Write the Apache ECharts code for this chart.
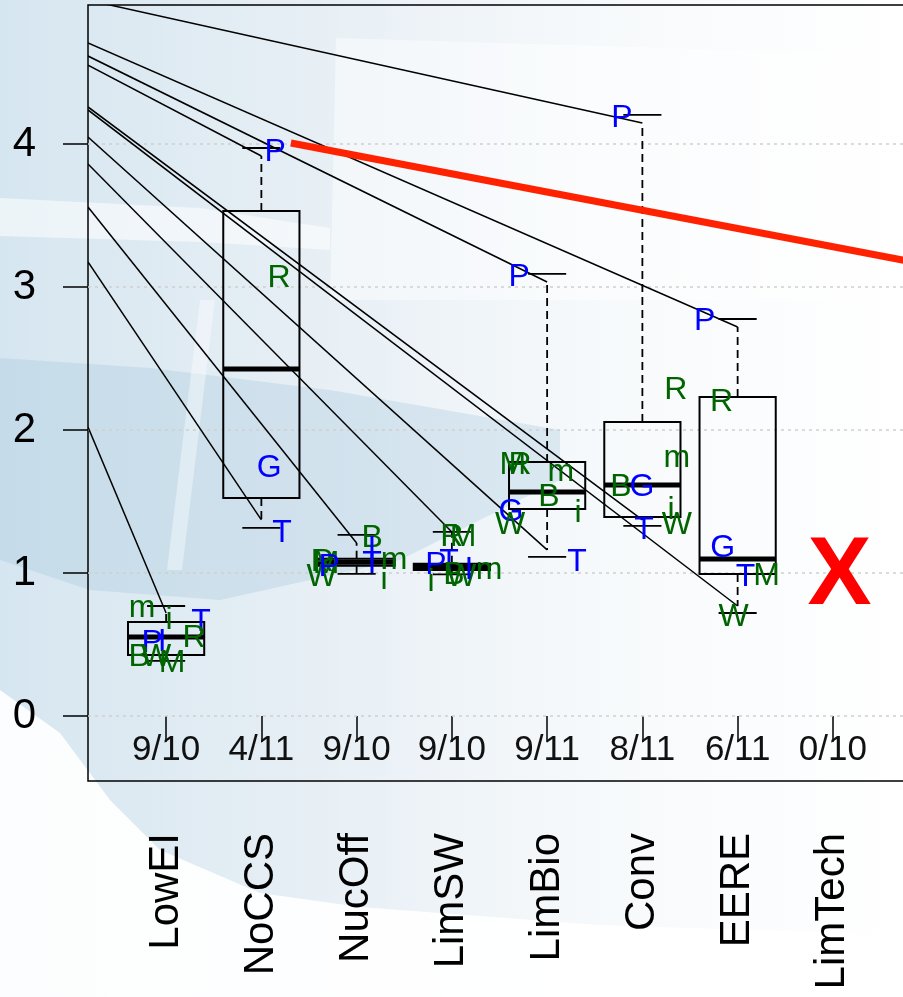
<!DOCTYPE html>
<html><head><meta charset="utf-8">
<script src="https://cdn.jsdelivr.net/npm/echarts@6/dist/echarts.min.js"></script>
<style>html,body{margin:0;padding:0;background:#fff}#c{width:903px;height:997px}</style>
</head><body><div id="c"></div>
<script>
// ---- data ----
const categories = ['LowEI','NoCCS','NucOff','LimSW','LimBio','Conv','EERE','LimTech'];
const counts = ['9/10','4/11','9/10','9/10','9/11','8/11','6/11','0/10'];
const yTicks = [0,1,2,3,4];
const countLevel = -0.238;

// box statistics for the first seven scenarios
const boxQ1        = [0.427,1.524,1.050,1.020,1.448,1.392,0.993];
const boxMedian    = [0.552,2.427,1.075,1.045,1.566,1.615,1.098];
const boxQ3        = [0.657,3.531,1.100,1.065,1.776,2.056,2.231];
const whiskerHigh  = [0.720,3.916,1.210,1.287,3.035,4.147,2.720];
const capHigh      = [0.769,3.972,1.266,1.287,3.091,4.203,2.776];
const whiskerLow   = [0.400,1.371,1.000,1.000,1.161,1.371,0.769];
const capLow       = [0.385,1.315,0.993,0.990,1.112,1.329,0.720];

// connecting lines from the left axis
const lineStart  = [5.006,4.706,4.615,4.552,4.259,4.238,4.049,3.860,3.559,3.175,2.020];
const lineEndCat = [6,7,5,2,6,7,5,4,3,2,1];
const lineEndVal = [4.147,2.720,3.035,3.916,1.371,0.769,1.161,1.287,1.210,1.371,0.720];

// model letters
const labelText = ['m','i','T','R','P','I','B','W','M',
  'P','R','G','T',
  'W','R','M','P','B','I','T','m','i',
  'R','M','P','T','i','B','W','I','m',
  'P','M','R','m','B','i','G','W','T',
  'P','R','m','B','G','i','W','T',
  'P','R','G','T','M','W'];
const labelX = [0.748,1.031,1.367,1.294,0.853,0.958,0.717,0.895,1.063,
  2.144,2.186,2.081,2.217,
  2.633,2.640,2.680,2.711,3.162,3.162,3.162,3.393,3.288,
  4.000,4.117,3.833,3.970,3.781,4.022,4.096,4.180,4.390,
  4.706,4.641,4.715,5.145,5.019,5.324,4.620,4.610,5.313,
  5.785,6.352,6.362,5.775,5.995,6.300,6.362,6.016,
  6.654,6.832,6.843,7.084,7.304,6.958];
const labelY = [0.755,0.671,0.657,0.545,0.510,0.517,0.413,0.413,0.371,
  3.944,3.063,1.734,1.280,
  0.972,1.077,1.060,1.042,1.245,1.168,1.060,1.091,0.951,
  1.252,1.252,1.056,1.077,0.937,0.986,0.972,1.021,1.021,
  3.070,1.755,1.755,1.706,1.531,1.420,1.427,1.336,1.077,
  4.182,2.280,1.804,1.601,1.601,1.441,1.336,1.301,
  2.762,2.196,1.175,0.972,0.979,0.692];
const blueLetters = ['P','T','G','I'];

// red reference line
const redLineX = [2.31, 8.82];
const redLineY = [4.007, 3.177];
// "no result" marker
const missX = [8.07];
const missY = [0.965];
const missText = ['X'];

const xMin = 0.18, xMax = 8.82, yMin = -0.455, yMax = 4.972;
const FONT = '"Liberation Sans", Arial, sans-serif';

// ---- chart ----
const chart = echarts.init(document.getElementById('c'), null, {renderer:'canvas'});

const boxData = boxQ1.map((q1,i)=>[i+1,q1,boxMedian[i],boxQ3[i],whiskerLow[i],capLow[i],whiskerHigh[i],capHigh[i]]);
const diagData = lineStart.map((s,i)=>[xMin,s,lineEndCat[i],lineEndVal[i]]);
const letterData = labelText.map((t,i)=>[labelX[i],labelY[i]]);
const countData = counts.map((t,i)=>[i+1,countLevel]);
const gridData = yTicks.map(v=>[xMin,v]);

function renderBox(params, api){
  const c = api.value(0);
  const q1=api.value(1), med=api.value(2), q3=api.value(3), wl=api.value(4), cl=api.value(5), wh=api.value(6), ch=api.value(7);
  const tl = api.coord([c-0.4,q3]), br = api.coord([c+0.4,q1]);
  const ml = api.coord([c-0.4,med]), mr = api.coord([c+0.4,med]);
  const cx = api.coord([c,0])[0];
  const yq3 = tl[1], yq1 = br[1];
  const ywh = api.coord([c,wh])[1], ywl = api.coord([c,wl])[1];
  const ych = api.coord([c,ch])[1], ycl = api.coord([c,cl])[1];
  const cL = api.coord([c-0.2,0])[0], cR = api.coord([c+0.2,0])[0];
  const dash = {stroke:'#000', lineWidth:1.8, lineDash:[8,5], fill:null};
  const solid = {stroke:'#000', lineWidth:1.8, fill:null};
  return {type:'group', children:[
    {type:'line', shape:{x1:cx,y1:yq3,x2:cx,y2:ywh}, style:dash},
    {type:'line', shape:{x1:cx,y1:yq1,x2:cx,y2:ywl}, style:dash},
    {type:'line', shape:{x1:cL,y1:ych,x2:cR,y2:ych}, style:solid},
    {type:'line', shape:{x1:cL,y1:ycl,x2:cR,y2:ycl}, style:solid},
    {type:'rect', shape:{x:tl[0],y:yq3,width:br[0]-tl[0],height:yq1-yq3}, style:{stroke:'#000',lineWidth:2,fill:null}},
    {type:'line', shape:{x1:ml[0],y1:ml[1],x2:mr[0],y2:mr[1]}, style:{stroke:'#000',lineWidth:5}}
  ]};
}

function renderDiag(params, api){
  const a = api.coord([api.value(0),api.value(1)]);
  const b = api.coord([api.value(2),api.value(3)]);
  return {type:'line', shape:{x1:a[0],y1:a[1],x2:b[0],y2:b[1]}, style:{stroke:'#000',lineWidth:1.5}};
}

function renderGrid(params, api){
  const a = api.coord([xMin, api.value(1)]);
  const b = api.coord([xMax, api.value(1)]);
  return {type:'line', shape:{x1:a[0],y1:a[1],x2:b[0],y2:b[1]}, style:{stroke:'#cfcfcf',lineWidth:1.6,lineDash:[3,4]}};
}

function renderLetter(params, api){
  const p = api.coord([api.value(0),api.value(1)]);
  const t = labelText[params.dataIndex];
  return {type:'text', x:p[0], y:p[1], style:{text:t, fill: blueLetters.includes(t)?'#0000ff':'#006400',
    font:'32px '+FONT, align:'center', verticalAlign:'middle'}};
}

function renderCount(params, api){
  const p = api.coord([api.value(0),api.value(1)]);
  return {type:'text', x:p[0], y:p[1], style:{text:counts[params.dataIndex], fill:'#111',
    font:'35px '+FONT, align:'center', verticalAlign:'middle'}};
}

function renderMiss(params, api){
  const p = api.coord([api.value(0),api.value(1)]);
  return {type:'text', x:p[0], y:p[1], style:{text:missText[params.dataIndex], fill:'#ff0000',
    font:'bold 96px '+FONT, align:'center', verticalAlign:'middle'}};
}

const option = {
  animation:false,
  backgroundColor:{type:'linear',x:0,y:0,x2:1,y2:0,colorStops:[
    {offset:0,color:'#d6e6f0'},{offset:0.35,color:'#e7eff5'},{offset:0.65,color:'#f6f9fb'},{offset:1,color:'#ffffff'}]},
  graphic:[
    {type:'polygon', z:-1, silent:true, shape:{points:[[336,38],[903,55],[903,300],[330,300]]}, style:{fill:'rgba(255,255,255,0.45)'}},
    {type:'polygon', z:-1, silent:true, shape:{points:[[0,198],[200,208],[330,228],[330,250],[200,242],[0,236]]}, style:{fill:'rgba(255,255,255,0.55)'}},
    {type:'polygon', z:-1, silent:true, shape:{points:[[0,358],[150,368],[330,390],[560,430],[560,480],[400,560],[220,600],[90,590],[0,560]]}, style:{fill:'rgba(160,195,218,0.3)'}},
    {type:'polygon', z:-1, silent:true, shape:{points:[[200,300],[215,300],[182,570],[167,570]]}, style:{fill:'rgba(255,255,255,0.4)'}},
    {type:'polygon', z:-1, silent:true, shape:{points:[[0,690],[60,733],[110,800],[160,850],[260,893],[360,907],[600,925],[903,935],[903,997],[0,997]]}, style:{fill:'rgba(255,255,255,0.92)'}}
  ],
  grid:{left:88, top:5, width:823, height:776, outerBoundsMode:'none', containLabel:false,
    show:true, borderColor:'#000', borderWidth:1.5, backgroundColor:'transparent'},
  xAxis:{type:'value', min:xMin, max:xMax,
    axisLine:{show:false}, splitLine:{show:false},
    axisTick:{show:true, customValues:[1,2,3,4,5,6,7,8], length:26, lineStyle:{color:'#000',width:1.5}},
    axisLabel:{show:true, customValues:[1,2,3,4,5,6,7,8], rotate:90, margin:52, fontSize:42, fontFamily:FONT, color:'#000',
      formatter:v=>categories[Math.round(v)-1]}},
  yAxis:{type:'value', min:yMin, max:yMax,
    axisLine:{show:false}, splitLine:{show:false},
    axisTick:{show:true, customValues:yTicks, length:25, lineStyle:{color:'#000',width:1.5}},
    axisLabel:{show:true, customValues:yTicks, margin:52, fontSize:42, fontFamily:FONT, color:'#000'}},
  series:[
    {type:'custom', z:1, data:gridData, renderItem:renderGrid, silent:true},
    {type:'custom', z:3, data:boxData, renderItem:renderBox, silent:true},
    {type:'custom', z:4, data:diagData, renderItem:renderDiag, clip:true, silent:true},
    {type:'custom', z:5, data:countData, renderItem:renderCount, silent:true},
    {type:'custom', z:6, data:letterData, renderItem:renderLetter, silent:true},
    {type:'line', z:7, data:redLineX.map((x,i)=>[x,redLineY[i]]), symbol:'none', clip:true,
      lineStyle:{color:'#ff2200', width:7}, silent:true},
    {type:'custom', z:7, data:missX.map((x,i)=>[x,missY[i]]), renderItem:renderMiss, silent:true}
  ]
};
chart.setOption(option);
</script>
</body></html>
